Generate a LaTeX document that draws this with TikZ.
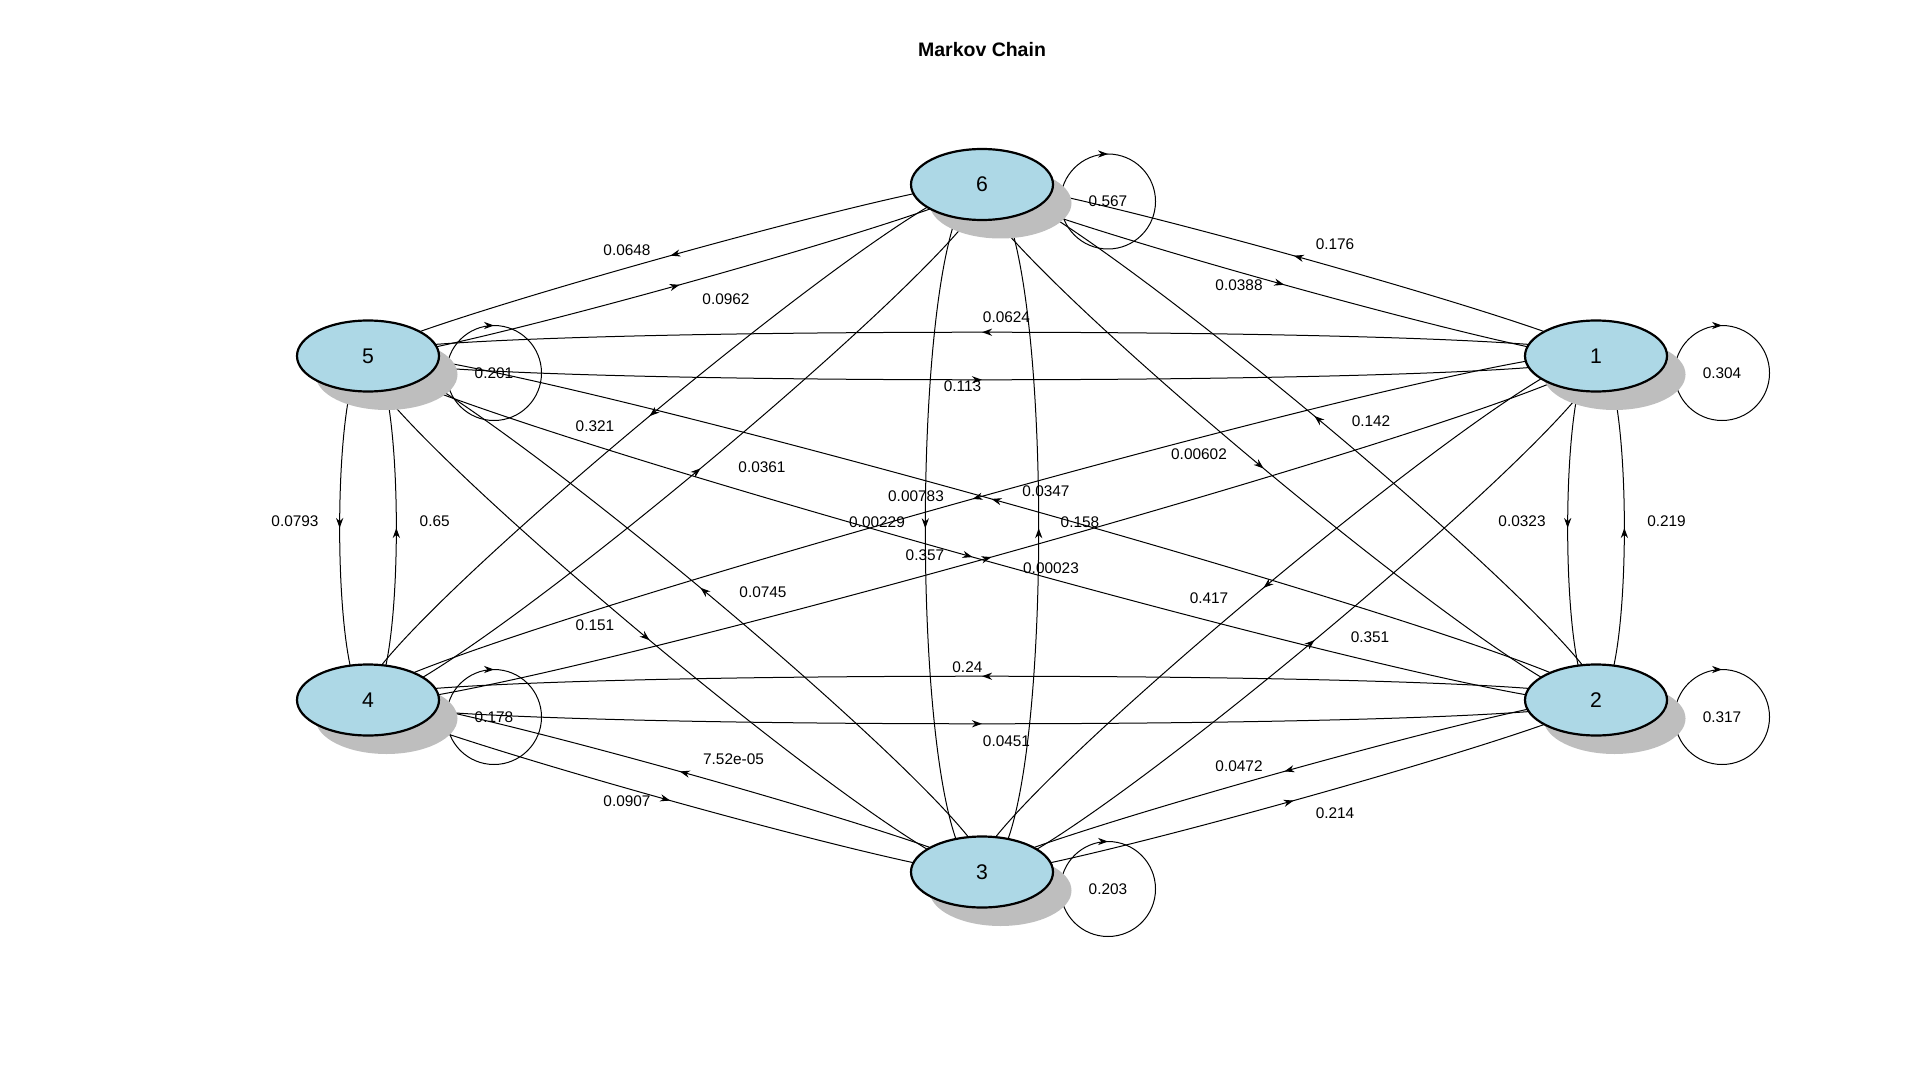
\documentclass[tikz,border=0pt]{standalone}
\usepackage{fontspec}
\setmainfont{Liberation Sans}
\usetikzlibrary{arrows.meta,decorations.markings,shadows,backgrounds,shapes.geometric}
\definecolor{boxblue}{RGB}{173,216,230}
\definecolor{shadowgrey}{RGB}{190,190,190}
\tikzset{
  state/.style={ellipse,draw,line width=1.1pt,fill=boxblue,minimum width=71pt,minimum height=35.5pt,inner sep=0pt,
    font=\fontsize{10.6}{12}\selectfont,
    drop shadow={shadow xshift=9.25pt,shadow yshift=-9.25pt,fill=shadowgrey,opacity=1}},
  midarrow/.style={postaction={decorate,decoration={markings,
    mark=at position #1 with {\arrow{Stealth[length=5pt,width=3.6pt]}}}}},
  trans/.style={line width=0.5pt,midarrow=0.5},
  selfloop/.style={line width=0.5pt,midarrow=0.75},
  prob/.style={font=\fontsize{7.7}{9}\selectfont,inner sep=0pt}
}
\begin{document}
\begin{tikzpicture}[x=0.5pt,y=-0.5pt]
\useasboundingbox (0,0) rectangle (1920,1080);
\node[font=\bfseries\fontsize{9.75}{11}\selectfont] (title) at (982,50) {Markov Chain};
% states
\node[state] (s6) at (982,184.5) {6};
\node[state] (s1) at (1596,356) {1};
\node[state] (s2) at (1596,700) {2};
\node[state] (s3) at (982,872) {3};
\node[state] (s4) at (368,700) {4};
\node[state] (s5) at (368,356) {5};
\begin{pgfonlayer}{background}
% transitions
\draw[trans] (s6.center) .. controls +(-18.9,-15.9) and +(-18.9,-15.9) .. (s5.center);
\draw[trans] (s5.center) .. controls +(18.9,15.9) and +(18.9,15.9) .. (s6.center);
\draw[trans] (s6.center) .. controls +(-18.9,15.9) and +(-18.9,15.9) .. (s1.center);
\draw[trans] (s1.center) .. controls +(18.9,-15.9) and +(18.9,-15.9) .. (s6.center);
\draw[trans] (s6.center) .. controls +(-56.7,15.9) and +(-56.7,15.9) .. (s2.center);
\draw[trans] (s2.center) .. controls +(56.7,-15.9) and +(56.7,-15.9) .. (s6.center);
\draw[trans] (s6.center) .. controls +(-75.6,0) and +(-75.6,0) .. (s3.center);
\draw[trans] (s3.center) .. controls +(75.6,0) and +(75.6,0) .. (s6.center);
\draw[trans] (s6.center) .. controls +(-56.7,-15.9) and +(-56.7,-15.9) .. (s4.center);
\draw[trans] (s4.center) .. controls +(56.7,15.9) and +(56.7,15.9) .. (s6.center);
\draw[trans] (s5.center) .. controls +(0,31.7) and +(0,31.7) .. (s1.center);
\draw[trans] (s1.center) .. controls +(0,-31.7) and +(0,-31.7) .. (s5.center);
\draw[trans] (s5.center) .. controls +(-37.8,31.7) and +(-37.8,31.7) .. (s2.center);
\draw[trans] (s2.center) .. controls +(37.8,-31.7) and +(37.8,-31.7) .. (s5.center);
\draw[trans] (s5.center) .. controls +(-56.7,15.9) and +(-56.7,15.9) .. (s3.center);
\draw[trans] (s3.center) .. controls +(56.7,-15.9) and +(56.7,-15.9) .. (s5.center);
\draw[trans] (s5.center) .. controls +(-37.8,0) and +(-37.8,0) .. (s4.center);
\draw[trans] (s4.center) .. controls +(37.8,0) and +(37.8,0) .. (s5.center);
\draw[trans] (s1.center) .. controls +(-37.8,0) and +(-37.8,0) .. (s2.center);
\draw[trans] (s2.center) .. controls +(37.8,0) and +(37.8,0) .. (s1.center);
\draw[trans] (s1.center) .. controls +(-56.7,-15.9) and +(-56.7,-15.9) .. (s3.center);
\draw[trans] (s3.center) .. controls +(56.7,15.9) and +(56.7,15.9) .. (s1.center);
\draw[trans] (s1.center) .. controls +(-37.8,-31.7) and +(-37.8,-31.7) .. (s4.center);
\draw[trans] (s4.center) .. controls +(37.8,31.7) and +(37.8,31.7) .. (s1.center);
\draw[trans] (s2.center) .. controls +(-18.9,-15.9) and +(-18.9,-15.9) .. (s3.center);
\draw[trans] (s3.center) .. controls +(18.9,15.9) and +(18.9,15.9) .. (s2.center);
\draw[trans] (s2.center) .. controls +(0,-31.7) and +(0,-31.7) .. (s4.center);
\draw[trans] (s4.center) .. controls +(0,31.7) and +(0,31.7) .. (s2.center);
\draw[trans] (s3.center) .. controls +(18.9,-15.9) and +(18.9,-15.9) .. (s4.center);
\draw[trans] (s4.center) .. controls +(-18.9,15.9) and +(-18.9,15.9) .. (s3.center);
% probabilities
\node[prob] (p65) at (627,250) {0.0648};
\node[prob] (p56) at (726,299) {0.0962};
\node[prob] (p61) at (1239,285) {0.0388};
\node[prob] (p16) at (1335,244) {0.176};
\node[prob] (p62) at (1199,454) {0.00602};
\node[prob] (p26) at (1371,421) {0.142};
\node[prob] (p63) at (877,522) {0.00229};
\node[prob] (p36) at (1080,522) {0.158};
\node[prob] (p64) at (595,426) {0.321};
\node[prob] (p46) at (762,467) {0.0361};
\node[prob] (p51) at (962.5,385.7) {0.113};
\node[prob] (p15) at (1006.5,317) {0.0624};
\node[prob] (p52) at (925,555) {0.357};
\node[prob] (p25) at (1046,491) {0.0347};
\node[prob] (p53) at (595,625) {0.151};
\node[prob] (p35) at (763,592) {0.0745};
\node[prob] (p54) at (295,521.6) {0.0793};
\node[prob] (p45) at (434.7,521.6) {0.65};
\node[prob] (p12) at (1522,521.6) {0.0323};
\node[prob] (p21) at (1666.5,521.6) {0.219};
\node[prob] (p13) at (1209,598) {0.417};
\node[prob] (p31) at (1370,637.5) {0.351};
\node[prob] (p14) at (916,496) {0.00783};
\node[prob] (p41) at (1051,568) {0.00023};
\node[prob] (p23) at (1239,766.5) {0.0472};
\node[prob] (p32) at (1335,813) {0.214};
\node[prob] (p24) at (967.4,667.4) {0.24};
\node[prob] (p42) at (1006.5,740.8) {0.0451};
\node[prob] (p34) at (733.5,759.2) {7.52e-05};
\node[prob] (p43) at (627,800.8) {0.0907};
% self loops
\foreach \s/\v in {6/0.567,1/0.304,2/0.317,3/0.203,4/0.178,5/0.201}{
  \path (s\s.center) ++(126,17) coordinate (l\s);
  \draw[selfloop] (l\s) circle (47.5);
  \node[prob] (p\s\s) at (l\s) {\v};
}
\end{pgfonlayer}
\end{tikzpicture}
\end{document}
